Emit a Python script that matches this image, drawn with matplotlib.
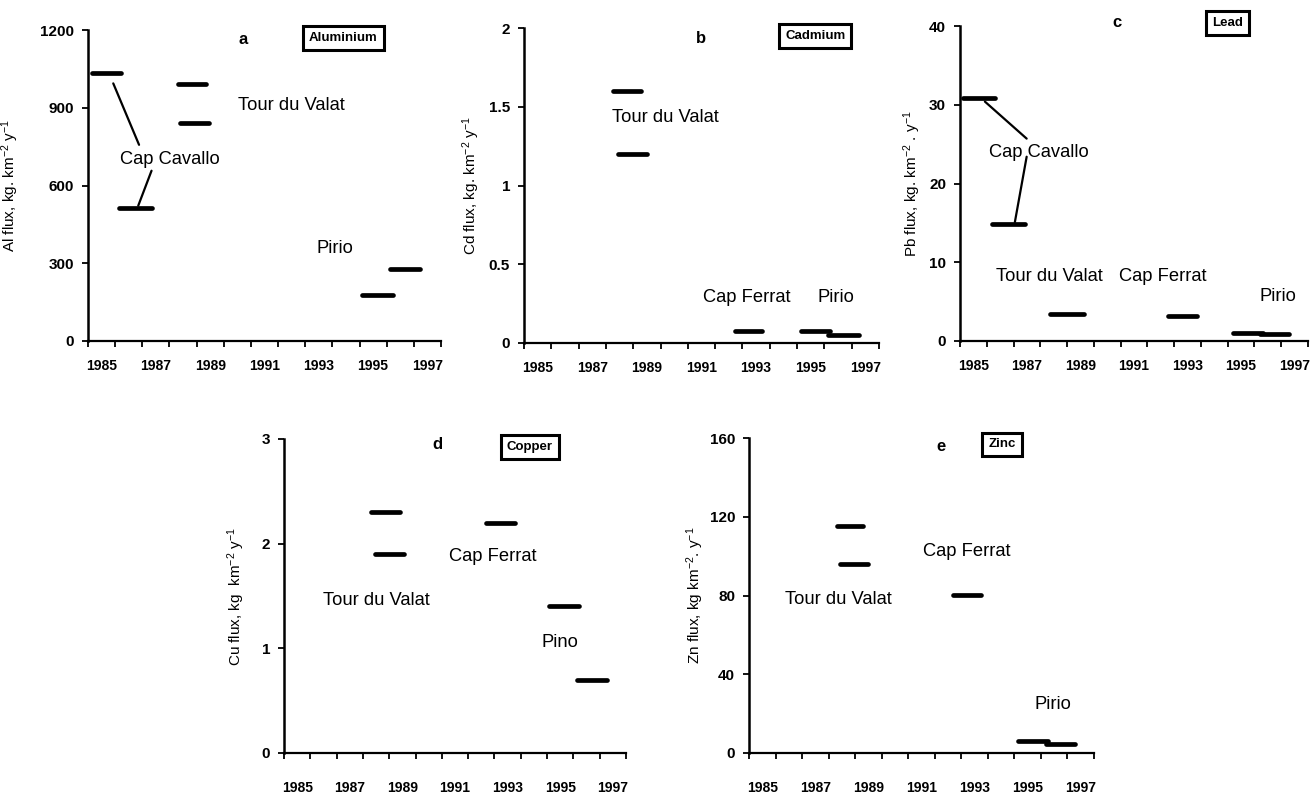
import matplotlib
matplotlib.use("Agg")
import matplotlib.pyplot as plt

plt.rcParams['font.family'] = ['Liberation Sans', 'DejaVu Sans']
plt.rcParams['mathtext.default'] = 'regular'

# category axis: one slot per year, labels on every second year
years = list(range(1985, 1998))
label_years = [1985, 1987, 1989, 1991, 1993, 1995, 1997]
label_text = [str(y) for y in label_years]

# each flux segment: start year, end year, flux
al_start = [1984.63, 1985.64, 1987.81, 1987.87, 1994.58, 1995.62]
al_end = [1985.73, 1986.86, 1988.85, 1988.97, 1995.74, 1996.72]
al_flux = [1033, 515, 990, 843, 176, 276]

cd_start = [1987.76, 1987.94, 1992.22, 1994.66, 1995.64]
cd_end = [1988.80, 1989.00, 1993.23, 1995.72, 1996.76]
cd_flux = [1.60, 1.20, 0.074, 0.074, 0.049]

pb_start = [1984.62, 1985.68, 1987.88, 1992.28, 1994.68, 1995.70]
pb_end = [1985.81, 1986.93, 1989.13, 1993.36, 1995.82, 1996.79]
pb_flux = [30.9, 14.9, 3.4, 3.2, 1.07, 0.85]

cu_start = [1987.80, 1987.95, 1992.17, 1994.59, 1995.63]
cu_end = [1988.91, 1989.06, 1993.29, 1995.73, 1996.79]
cu_flux = [2.30, 1.90, 2.20, 1.40, 0.70]

zn_start = [1987.80, 1987.93, 1992.17, 1994.64, 1995.69]
zn_end = [1988.78, 1989.00, 1993.26, 1995.77, 1996.78]
zn_flux = [115.5, 95.8, 80.4, 6.1, 4.4]

# site names (x, y, text)
al_sites = [(1987.53, 702, 'Cap Cavallo'), (1991.98, 910, 'Tour du Valat'), (1993.58, 357, 'Pirio')]
cd_sites = [(1989.69, 1.434, 'Tour du Valat'), (1992.67, 0.286, 'Cap Ferrat'), (1995.94, 0.286, 'Pirio')]
pb_sites = [(1987.46, 23.9, 'Cap Cavallo'), (1987.85, 8.14, 'Tour du Valat'),
            (1992.08, 8.14, 'Cap Ferrat'), (1996.37, 5.7, 'Pirio')]
cu_sites = [(1988.01, 1.46, 'Tour du Valat'), (1992.44, 1.876, 'Cap Ferrat'), (1994.98, 1.056, 'Pino')]
zn_sites = [(1987.86, 78.0, 'Tour du Valat'), (1992.72, 102.4, 'Cap Ferrat'), (1995.96, 24.6, 'Pirio')]

# leader lines from the Cap Cavallo label to its two segments
al_leaders = [((1985.43, 994), (1986.38, 757)), ((1986.84, 657), (1986.35, 522))]
pb_leaders = [((1985.43, 30.4), (1986.99, 25.7)), ((1986.99, 23.4), (1986.55, 15.1))]

fig = plt.figure(figsize=(13.1, 7.93), dpi=100)
W, H = 1310.0, 793.0


def panel(box, ymax, yticks, ytlabels, start, end, flux, sites, letter, letter_xy,
          metal, metal_xy, ylabel, ylab_x, xpad, leaders=None):
    l, r, t, b = box
    ax = fig.add_axes([l / W, 1 - b / H, (r - l) / W, (b - t) / H])
    ax.hlines(flux, start, end, colors='black', linewidth=3.4, capstyle='round')
    if leaders:
        for p0, p1 in leaders:
            ax.annotate('', xy=p1, xytext=p0,
                        arrowprops=dict(arrowstyle='-', lw=1.6, color='black',
                                        shrinkA=0, shrinkB=0))
    for x, y, s in sites:
        ax.text(x, y, s, ha='center', va='center', fontsize=13.2)
    ax.text(letter_xy[0], letter_xy[1], letter, ha='center', va='center',
            fontsize=12, fontweight='bold', clip_on=False)
    ax.text(metal_xy[0], metal_xy[1], metal, ha='center', va='center',
            fontsize=9.5, fontweight='bold', clip_on=False,
            bbox=dict(boxstyle='square,pad=0.45', fc='white', ec='black', lw=2.2))

    ax.set_xlim(years[0] - 0.5, years[-1] + 0.5)
    ax.set_ylim(0, ymax)
    ax.set_xticks([y - 0.5 for y in years] + [years[-1] + 0.5])
    ax.set_xticklabels([])
    ax.set_xticks(label_years, minor=True)
    ax.set_xticklabels(label_text, minor=True, fontsize=10, fontweight='bold')
    ax.tick_params(axis='x', which='major', direction='out', length=4, width=1.3)
    ax.tick_params(axis='x', which='minor', length=0, pad=xpad)
    ax.set_yticks(yticks)
    ax.set_yticklabels(ytlabels, fontsize=11, fontweight='bold')
    ax.tick_params(axis='y', direction='out', length=4, width=1.3, pad=6)
    ax.set_ylabel(ylabel, fontsize=11)
    ax.yaxis.set_label_coords(ylab_x, 0.5)
    for s in ['top', 'right']:
        ax.spines[s].set_visible(False)
    ax.spines['left'].set_linewidth(1.8)
    ax.spines['bottom'].set_linewidth(1.6)
    return ax


panel((88, 441, 30, 341), 1200, [0, 300, 600, 900, 1200], ['0', '300', '600', '900', '1200'],
      al_start, al_end, al_flux, al_sites, 'a', (1990.21, 1164), 'Aluminium', (1993.9, 1169),
      'Al flux, kg. km$^{-2}$ y$^{-1}$', -0.19, 13, al_leaders)

panel((524, 879, 28, 343), 2, [0, 0.5, 1, 1.5, 2], ['0', '0.5', '1', '1.5', '2'],
      cd_start, cd_end, cd_flux, cd_sites, 'b', (1990.97, 1.936), 'Cadmium', (1995.17, 1.95),
      'Cd flux, kg. km$^{-2}$ y$^{-1}$', -0.118, 13)

panel((960, 1308, 26, 341), 40, [0, 10, 20, 30, 40], ['0', '10', '20', '30', '40'],
      pb_start, pb_end, pb_flux, pb_sites, 'c', (1990.35, 40.4), 'Lead', (1994.5, 40.35),
      'Pb flux, kg. km$^{-2}$ . y$^{-1}$', -0.106, 13, pb_leaders)

panel((284, 626, 439, 753), 3, [0, 1, 2, 3], ['0', '1', '2', '3'],
      cu_start, cu_end, cu_flux, cu_sites, 'd', (1990.34, 2.95), 'Copper', (1993.84, 2.92),
      'Cu flux, kg  km$^{-2}$ y$^{-1}$', -0.108, 20)

panel((749, 1094, 438, 753), 160, [0, 40, 80, 120, 160], ['0', '40', '80', '120', '160'],
      zn_start, zn_end, zn_flux, zn_sites, 'e', (1991.75, 155.8), 'Zinc', (1994.03, 156.7),
      'Zn flux, kg km$^{-2}$. y$^{-1}$', -0.125, 20)

fig.savefig('out.png', dpi=100)
